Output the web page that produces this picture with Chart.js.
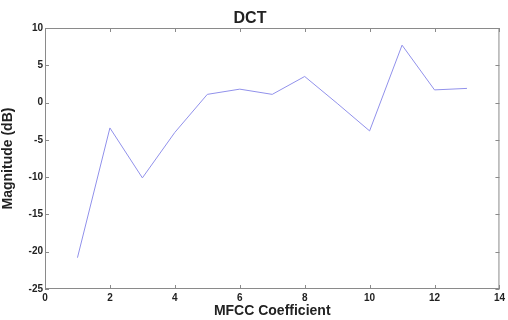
<!DOCTYPE html>
<html>
<head>
<meta charset="utf-8">
<script src="https://cdn.jsdelivr.net/npm/chart.js@4/dist/chart.umd.min.js"></script>
<style>
	html, body { margin: 0; padding: 0; background: #fff; }
	#wrap { width: 508px; height: 320px; }
</style>
</head>
<body>
<div id="wrap"><canvas id="chart1"></canvas></div>
<script>
	"use strict";

	var coefficients = [1, 2, 3, 4, 5, 6, 7, 8, 9, 10, 11, 12, 13];
	var magnitudes = [-20.8, -3.4, -10.1, -4.0, 1.1, 1.8, 1.1, 3.5, -0.1, -3.8, 7.7, 1.7, 1.9];
	var xTicks = [0, 2, 4, 6, 8, 10, 12, 14];
	var yTicks = [-25, -20, -15, -10, -5, 0, 5, 10];

	var axisColor = "#8a8a8a";
	var textColor = "#222";

	// box round the plot with inward tick marks, matlab style
	var boxTicks = {
		id: "boxTicks",
		afterDraw: function (chart) {
			var a = chart.chartArea, ctx = chart.ctx;
			var xs = chart.scales.x, ys = chart.scales.y;
			ctx.save();
			ctx.strokeStyle = axisColor;
			ctx.lineWidth = 1;
			ctx.strokeRect(a.left + 0.5, a.top + 0.5, a.right - a.left - 1, a.bottom - a.top - 1);
			ctx.beginPath();
			xTicks.forEach(function (v) {
				var px = Math.round(xs.getPixelForValue(v)) + 0.5;
				ctx.moveTo(px, a.bottom); ctx.lineTo(px, a.bottom - 4);
				ctx.moveTo(px, a.top); ctx.lineTo(px, a.top + 4);
			});
			yTicks.forEach(function (v) {
				var py = Math.round(ys.getPixelForValue(v)) + 0.5;
				ctx.moveTo(a.left, py); ctx.lineTo(a.left + 4, py);
				ctx.moveTo(a.right, py); ctx.lineTo(a.right - 4, py);
			});
			ctx.stroke();
			ctx.restore();
		}
	};

	var points = coefficients.map(function (c, i) { return { x: c, y: magnitudes[i] }; });

	new Chart(document.getElementById("chart1"), {
		type: "line",
		data: {
			datasets: [{
				data: points,
				borderColor: "rgb(145,145,235)",
				borderWidth: 1,
				pointRadius: 0,
				tension: 0,
				fill: false
			}]
		},
		options: {
			responsive: true,
			maintainAspectRatio: false,
			animation: false,
			layout: { padding: { right: 8 } },
			plugins: {
				legend: { display: false },
				tooltip: { enabled: false },
				title: {
					display: true,
					text: "DCT",
					color: textColor,
					font: { family: "Liberation Sans, Arial", size: 16, weight: "bold", lineHeight: 1 },
					padding: { top: 11, bottom: 1 }
				}
			},
			scales: {
				x: {
					type: "linear",
					min: 0, max: 14,
					afterBuildTicks: function (s) { s.ticks = xTicks.map(function (v) { return { value: v }; }); },
					afterFit: function (s) { s.height = 31; },
					grid: { display: false, drawTicks: false },
					border: { display: false },
					ticks: {
						color: textColor,
						padding: 3,
						maxRotation: 0,
						font: { family: "Liberation Sans, Arial", size: 10, weight: "bold" }
					},
					title: {
						display: true,
						text: "MFCC Coefficient",
						color: textColor,
						padding: 0,
						font: { family: "Liberation Sans, Arial", size: 14, weight: "bold" }
					}
				},
				y: {
					min: -25, max: 10,
					afterBuildTicks: function (s) { s.ticks = yTicks.map(function (v) { return { value: v }; }); },
					afterFit: function (s) { s.width = 45; },
					grid: { display: false, drawTicks: false },
					border: { display: false },
					ticks: {
						color: textColor,
						padding: 2,
						font: { family: "Liberation Sans, Arial", size: 10, weight: "bold" }
					},
					title: {
						display: true,
						text: "Magnitude (dB)",
						color: textColor,
						padding: 0,
						font: { family: "Liberation Sans, Arial", size: 14, weight: "bold" }
					}
				}
			}
		},
		plugins: [boxTicks]
	});
</script>
</body>
</html>
